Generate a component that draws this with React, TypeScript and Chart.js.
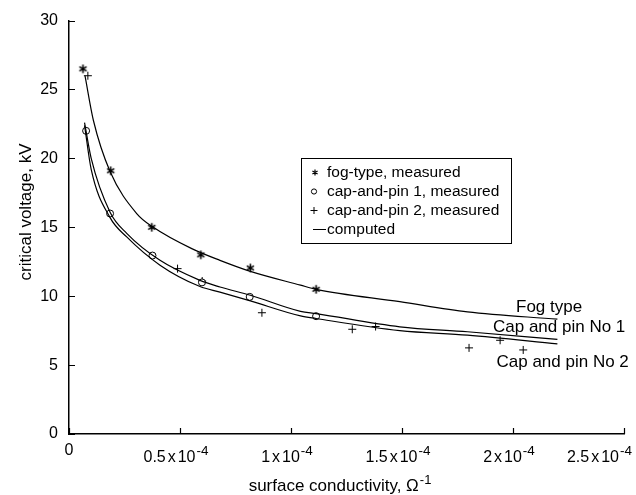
import React, { useEffect, useRef } from 'react';
import { Chart, registerables } from 'chart.js';
Chart.register(...registerables);

// x values in units of 1e-4 (Ω^-1), y in kV
const fogX = [0.063, 0.188, 0.373, 0.594, 0.817, 1.113];
const fogY = [26.5, 19.1, 15.0, 13.0, 12.05, 10.5];
const cap1X = [0.077, 0.185, 0.376, 0.599, 0.814, 1.113];
const cap1Y = [22.0, 16.0, 12.95, 11.0, 9.95, 8.55];
const cap2X = [0.085, 0.489, 0.6, 0.869, 1.276, 1.381, 1.802, 1.942, 2.046];
const cap2Y = [26.0, 12.0, 11.1, 8.8, 7.6, 7.8, 6.25, 6.8, 6.1];

const fogCalcX = [0.072, 0.11, 0.185, 0.305, 0.38, 0.553, 0.68, 0.817, 1.043, 1.113, 1.49, 1.795, 2.2];
const fogCalcY = [26.0, 22.75, 19.05, 16.0, 15.0, 13.45, 12.6, 11.8, 10.8, 10.5, 9.6, 8.86, 8.33];
const capCalcX = [0.07, 0.1, 0.185, 0.26, 0.41, 0.59, 0.68, 0.817, 1.043, 1.113, 1.49, 1.795, 2.2];
const cap1CalcY = [22.6, 20.0, 16.1, 14.56, 12.6, 11.15, 10.67, 10.07, 8.9, 8.74, 7.78, 7.42, 6.86];
const cap2CalcY = [22.4, 19.2, 15.7, 14.3, 12.25, 10.7, 10.3, 9.66, 8.57, 8.38, 7.5, 7.17, 6.54];

const xTicks = [0, 0.5, 1, 1.5, 2, 2.5];
const xTickBase = ['0', '0.5', '1', '1.5', '2', '2.5'];
const yTicks = [0, 5, 10, 15, 20, 25, 30];

const legendItems = ['fog-type, measured', 'cap-and-pin 1, measured', 'cap-and-pin 2, measured', 'computed'];
const curveLabels = ['Fog type', 'Cap and pin No 1', 'Cap and pin No 2'];

const FONT = '"Liberation Sans", Arial, Helvetica, sans-serif';

const zip = (xs: number[], ys: number[]) => xs.map((x, i) => ({ x, y: ys[i] }));

function drawAsterisk(ctx: CanvasRenderingContext2D, x: number, y: number, r: number) {
  ctx.beginPath();
  for (let k = 0; k < 3; k++) {
    const a = (Math.PI / 3) * k + Math.PI / 2;
    ctx.moveTo(x + r * Math.cos(a), y + r * Math.sin(a));
    ctx.lineTo(x - r * Math.cos(a), y - r * Math.sin(a));
  }
  ctx.stroke();
}

function makeAsteriskImage(size: number, r: number, lw: number) {
  const c = document.createElement('canvas');
  c.width = size;
  c.height = size;
  const g = c.getContext('2d')!;
  g.strokeStyle = '#000';
  g.lineWidth = lw;
  drawAsterisk(g, size / 2, size / 2, r);
  return c;
}

const customPlugin = {
  id: 'customDecor',
  afterDraw(chart: any) {
    const ctx: CanvasRenderingContext2D = chart.ctx;
    const xs = chart.scales.x;
    const ys = chart.scales.y;
    const { left, bottom } = chart.chartArea;
    ctx.save();
    ctx.strokeStyle = '#000';
    ctx.fillStyle = '#000';
    ctx.lineWidth = 1.2;
    // inward ticks
    ctx.beginPath();
    yTicks.forEach((v) => {
      const p = Math.round(ys.getPixelForValue(v)) + 0.5;
      ctx.moveTo(left, p);
      ctx.lineTo(left + 6, p);
    });
    xTicks.forEach((v) => {
      const p = Math.round(xs.getPixelForValue(v)) + 0.5;
      ctx.moveTo(p, bottom);
      ctx.lineTo(p, bottom - 6);
    });
    ctx.stroke();

    // x tick labels with superscript
    const baseFont = `16px ${FONT}`;
    const supFont = `13.5px ${FONT}`;
    xTicks.forEach((v, i) => {
      const p = xs.getPixelForValue(v);
      ctx.textBaseline = 'alphabetic';
      ctx.textAlign = 'left';
      if (i === 0) {
        ctx.font = baseFont;
        const w = ctx.measureText('0').width;
        ctx.fillText('0', p - w / 2, 455);
        return;
      }
      ctx.font = baseFont;
      const a = xTickBase[i];
      const wa = ctx.measureText(a).width;
      const wx = ctx.measureText('x').width;
      const w10 = ctx.measureText('10').width;
      ctx.font = supFont;
      const ws = ctx.measureText('-4').width;
      const total = wa + 2 + wx + 2 + w10 + 1 + ws;
      let start = p - total / 2 - 4;
      if (start + total > 632) start = 632 - total;
      ctx.font = baseFont;
      ctx.fillText(a, start, 461.5);
      ctx.fillText('x', start + wa + 2, 461.5);
      ctx.fillText('10', start + wa + 4 + wx, 461.5);
      ctx.font = supFont;
      ctx.fillText('-4', start + wa + 5 + wx + w10, 455);
    });

    // x title
    ctx.font = `17px ${FONT}`;
    const t1 = 'surface conductivity, Ω';
    const wt = ctx.measureText(t1).width;
    ctx.font = `13px ${FONT}`;
    const wsup = ctx.measureText('-1').width;
    const tx = 340 - (wt + wsup + 1) / 2;
    ctx.font = `17px ${FONT}`;
    ctx.fillText(t1, tx, 491);
    ctx.font = `13px ${FONT}`;
    ctx.fillText('-1', tx + wt + 1, 484);

    // y title
    ctx.save();
    ctx.translate(26, 212);
    ctx.rotate(-Math.PI / 2);
    ctx.font = `17px ${FONT}`;
    ctx.textAlign = 'center';
    ctx.textBaseline = 'middle';
    ctx.fillText('critical voltage, kV', 0, 0);
    ctx.restore();

    // curve labels
    ctx.font = `17px ${FONT}`;
    ctx.textAlign = 'left';
    ctx.textBaseline = 'alphabetic';
    ctx.fillText(curveLabels[0], 516, 312);
    ctx.fillText(curveLabels[1], 493, 331.5);
    ctx.fillText(curveLabels[2], 496.5, 366.5);

    // legend
    ctx.fillStyle = '#fff';
    ctx.fillRect(301, 158, 211, 85);
    ctx.strokeStyle = '#000';
    ctx.lineWidth = 1;
    ctx.strokeRect(301.5, 158.5, 210, 85);
    ctx.fillStyle = '#000';
    ctx.font = `15.5px ${FONT}`;
    ctx.textBaseline = 'middle';
    const rows = [172.5, 191.5, 210.5, 229.5];
    legendItems.forEach((t, i) => ctx.fillText(t, 327, rows[i]));
    ctx.lineWidth = 1.2;
    drawAsterisk(ctx, 315, rows[0], 3);
    ctx.lineWidth = 1;
    ctx.beginPath();
    ctx.arc(314, rows[1], 2.6, 0, Math.PI * 2);
    ctx.stroke();
    ctx.beginPath();
    ctx.moveTo(310.5, rows[2]);
    ctx.lineTo(317.5, rows[2]);
    ctx.moveTo(314, rows[2] - 3.5);
    ctx.lineTo(314, rows[2] + 3.5);
    ctx.stroke();
    ctx.beginPath();
    ctx.moveTo(313, rows[3]);
    ctx.lineTo(326, rows[3]);
    ctx.stroke();
    ctx.restore();
  },
};

export default function App() {
  const ref = useRef<HTMLCanvasElement | null>(null);
  useEffect(() => {
    document.body.style.margin = '0';
    const canvas = ref.current;
    if (!canvas) return;
    const asterisk = makeAsteriskImage(11, 4.2, 1.6);
    const lineDs = (data: any[]) => ({
      type: 'line' as const,
      data,
      borderColor: '#000',
      borderWidth: 1.2,
      pointRadius: 0,
      fill: false,
      cubicInterpolationMode: 'monotone' as const,
    });
    const chart = new Chart(canvas, {
      type: 'scatter',
      data: {
        datasets: [
          lineDs(zip(fogCalcX, fogCalcY)),
          lineDs(zip(capCalcX, cap1CalcY)),
          lineDs(zip(capCalcX, cap2CalcY)),
          {
            data: zip(fogX, fogY),
            pointStyle: asterisk,
            pointRadius: 5,
            borderColor: '#000',
            backgroundColor: '#000',
          },
          {
            data: zip(cap1X, cap1Y),
            pointStyle: 'circle',
            pointRadius: 3.5,
            borderColor: '#000',
            borderWidth: 1,
            backgroundColor: '#fff',
          },
          {
            data: zip(cap2X, cap2Y),
            pointStyle: 'cross',
            pointRadius: 4,
            borderColor: '#000',
            borderWidth: 1,
          },
        ] as any,
      },
      options: {
        animation: false,
        responsive: false,
        devicePixelRatio: 1,
        layout: { padding: { left: 0, top: 20, right: 12, bottom: 0 } },
        plugins: { legend: { display: false }, tooltip: { enabled: false } },
        scales: {
          x: {
            type: 'linear',
            min: 0,
            max: 2.5,
            grid: { display: false, drawTicks: false },
            border: { display: true, color: '#000', width: 1.5 },
            ticks: { display: false, stepSize: 0.5 },
            afterFit: (s: any) => { s.height = 61; },
          },
          y: {
            type: 'linear',
            min: 0,
            max: 30,
            grid: { display: false, drawTicks: false },
            border: { display: true, color: '#000', width: 1.5 },
            ticks: { stepSize: 5, color: '#000', padding: 11, font: { size: 16, family: FONT } },
            afterFit: (s: any) => { s.width = 69; },
          },
        },
      } as any,
      plugins: [customPlugin],
    });
    return () => chart.destroy();
  }, []);
  return <canvas ref={ref} width={636} height={495} style={{ display: 'block' }} />;
}
